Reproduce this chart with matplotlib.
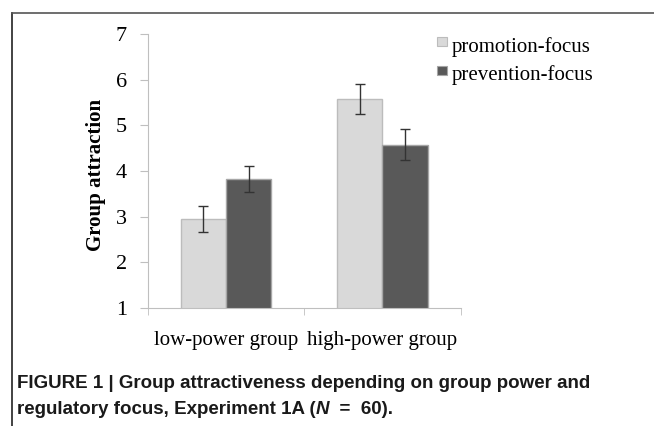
import matplotlib
matplotlib.use("Agg")
import matplotlib.pyplot as plt
import numpy as np
from matplotlib.lines import Line2D
from matplotlib.patches import Rectangle

categories = ["low-power group", "high-power group"]
series_names = ["promotion-focus", "prevention-focus"]
promotion = [2.95, 5.58]
prevention = [3.82, 4.58]
promotion_err = [0.28, 0.33]
prevention_err = [0.28, 0.33]
yticks = [1, 2, 3, 4, 5, 6, 7]
colors = ["#d9d9d9", "#595959"]
edges = ["#bcbcbc", "#a6a6a6"]

W, H = 654, 426
fig = plt.figure(figsize=(W / 100, H / 100), dpi=100)
ax = fig.add_axes([147.7 / W, 1 - 308 / H, 313 / W, 274 / H])

x = np.arange(len(categories))
w = 0.29
ekw = dict(ecolor="#333333", elinewidth=1.0, capsize=3.5, capthick=1.0)
ax.bar(x - w / 2, promotion, w, color=colors[0], edgecolor=edges[0], linewidth=1.0,
       yerr=promotion_err, error_kw=ekw)
ax.bar(x + w / 2, prevention, w, color=colors[1], edgecolor=edges[1], linewidth=1.0,
       yerr=prevention_err, error_kw=ekw)

ax.set_xlim(-0.5, len(categories) - 0.5)
ax.set_ylim(1, 7)
ax.set_yticks(yticks)
ax.set_yticklabels([str(v) for v in yticks], fontfamily="Liberation Serif", fontsize=16)
ax.set_xticks(x)
ax.set_xticklabels(categories, fontfamily="Liberation Serif", fontsize=15)
ax.tick_params(axis="x", length=0, pad=16.5)
ax.tick_params(axis="y", length=6, color="#bfbfbf", pad=9)
ax.set_xticks([-0.5, 0.5, 1.5], minor=True)
ax.tick_params(axis="x", which="minor", length=5, color="#bfbfbf")

for s in ["top", "right"]:
    ax.spines[s].set_visible(False)
ax.spines["left"].set_color("#bfbfbf")
ax.spines["bottom"].set_color("#bfbfbf")

ax.set_ylabel("Group attraction", fontfamily="Liberation Serif", fontweight="bold",
              fontsize=15)
ax.yaxis.set_label_coords((106 - 147.7) / 313, 0.485)

# legend drawn in figure pixels
leg_y = [(37, 46, 51.7), (65.5, 74.5, 80)]
for i, name in enumerate(series_names):
    y0, y1, base = leg_y[i]
    fig.add_artist(Rectangle((437 / W, 1 - y1 / H), 9.5 / W, (y1 - y0) / H,
                             transform=fig.transFigure, facecolor=colors[i],
                             edgecolor=edges[i], linewidth=0.8))
    fig.text(452 / W, 1 - base / H, name, ha="left", va="baseline",
             fontfamily="Liberation Serif", fontsize=15)

# frame lines
fig.add_artist(Line2D([11.5 / W, 11.5 / W], [0, 1 - 12.5 / H], transform=fig.transFigure,
                      color="#222222", linewidth=1.2))
fig.add_artist(Line2D([11.5 / W, 1], [1 - 12.5 / H, 1 - 12.5 / H], transform=fig.transFigure,
                      color="#555555", linewidth=1.2))

cap = dict(family="Liberation Sans", fontweight="bold", fontsize=13.5, color="#1a1a1a")
fig.text(17 / W, 1 - 384 / H, "FIGURE 1 | Group attractiveness depending on group power and",
         va="center", ha="left", **cap)
t1 = fig.text(17 / W, 1 - 410 / H, "regulatory focus, Experiment 1A (", va="center",
              ha="left", **cap)
t2 = plt.annotate("N", xy=(1, 0), xycoords=t1, va="bottom", ha="left",
                  family="Liberation Sans", fontweight="bold", fontstyle="italic",
                  fontsize=13.5, color="#1a1a1a")
t3 = plt.annotate("  =  60).", xy=(1, 0), xycoords=t2, va="bottom", ha="left", **cap)

fig.savefig("out.png", dpi=100)
